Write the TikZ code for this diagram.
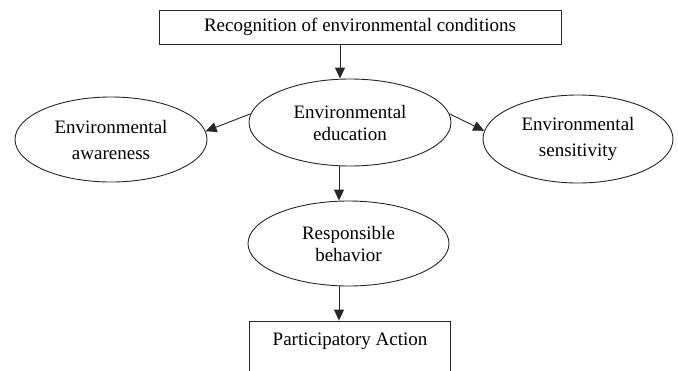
\documentclass[tikz,border=0pt]{standalone}
\usepackage{fontspec}
\setmainfont{Liberation Serif}
\usetikzlibrary{shapes.geometric,arrows.meta}
\begin{document}
\begin{tikzpicture}[x=1pt,y=-1pt,
  every node/.style={font=\fontsize{19}{22}\selectfont, align=center, inner sep=0pt},
  widelines/.style={font=\fontsize{19}{26}\selectfont},
  lineclr/.style={draw=black!85, line width=0.9pt},
  oval/.style={ellipse, lineclr},
  boxnode/.style={rectangle, lineclr},
  arr/.style={lineclr, -{Triangle[length=11pt,width=10pt]}}]
\useasboundingbox (0,0) rectangle (678,370);
\clip (0,0) rectangle (678,370);
\node[boxnode, minimum width=402pt, minimum height=34pt] (top) at (360,27) {Recognition of environmental conditions};
\node[oval, minimum width=202pt, minimum height=87pt] (edu) at (350,122.5) {Environmental\\education};
\node[oval, widelines, minimum width=192pt, minimum height=85pt] (awa) at (111,139.5) {Environmental\\awareness};
\node[oval, widelines, minimum width=190pt, minimum height=88pt] (sen) at (578,139) {Environmental\\sensitivity};
\node[oval, minimum width=201pt, minimum height=85pt] (beh) at (348.5,243.5) {Responsible\\behavior};
\node[boxnode, minimum width=201pt, minimum height=60pt] (act) at (349.5,351) {};
\node (acttext) at (350,341) {Participatory Action};
\draw[arr] ([xshift=-20pt]top.south) -- ([xshift=-10pt]edu.north);
\draw[arr] (edu.175) -- (awa.5);
\draw[arr] (edu.5) -- (sen.175);
\draw[arr] ([xshift=-11pt]edu.south) -- ([xshift=-9.5pt]beh.north);
\draw[arr] ([xshift=-9.5pt]beh.south) -- ([xshift=-10.5pt]act.north);
\end{tikzpicture}
\end{document}
